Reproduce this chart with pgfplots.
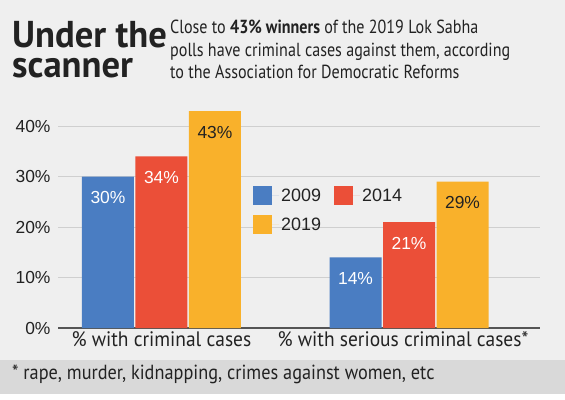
\documentclass[border=0pt]{standalone}
\usepackage{fontspec}
\setmainfont{PT Sans}
\newfontfamily\numfont{Liberation Sans}
\usepackage{pgfplots}
\pgfplotsset{compat=1.18}
\definecolor{bg}{HTML}{EFEFEF}
\definecolor{band}{HTML}{D9D9D9}
\definecolor{cblue}{HTML}{4A7DC2}
\definecolor{cred}{HTML}{EB4F38}
\definecolor{corange}{HTML}{F9B12B}
\definecolor{gridc}{HTML}{CFCFCF}
\definecolor{axc}{HTML}{555555}
\definecolor{txt}{HTML}{222222}
\begin{document}
\begin{tikzpicture}[x=1bp,y=1bp]
\fill[bg] (0,0) rectangle (565,399);
\path[use as bounding box] (0,0) rectangle (565,399);
\fill[band] (0,5) rectangle (565,39);
\fill[white] (0,0) rectangle (565,5);
% title
\node[anchor=base west, inner sep=0, text=txt, align=left, font=\fontsize{37.5}{30}\selectfont\bfseries] at (12,322) {\scalebox{0.98}[1]{Under the}\\\scalebox{0.98}[1]{scanner}};
% subtitle
\node[anchor=base west, inner sep=0, text=txt, font=\fontsize{19}{20}\selectfont] at (170,366) {\scalebox{0.85}[1]{Close to \textbf{43\% winners} of the 2019 Lok Sabha}};
\node[anchor=base west, inner sep=0, text=txt, font=\fontsize{19}{20}\selectfont] at (170,343) {\scalebox{0.85}[1]{polls have criminal cases against them, according}};
\node[anchor=base west, inner sep=0, text=txt, font=\fontsize{19}{20}\selectfont] at (170,321) {\scalebox{0.85}[1]{to the Association for Democratic Reforms}};
% footnote
\node[anchor=base west, inner sep=0, text=txt, font=\fontsize{20.5}{21}\selectfont] at (12,20) {\scalebox{0.895}[1]{* rape, murder, kidnapping, crimes against women, etc}};
\begin{axis}[
  at={(58bp,71bp)}, anchor=south west, scale only axis,
  width=482bp, height=227bp,
  xmin=-0.418, xmax=1.529, ymin=0, ymax=45,
  ybar=1.5bp, bar width=52bp,
  axis x line*=bottom, axis y line*=left,
  x axis line style={axc, line width=1.3bp},
  y axis line style={draw=none},
  major tick length=0pt,
  /pgf/number format/assume math mode=true,
  ytick={0,10,20,30,40},
  yticklabel={\pgfmathprintnumber{\tick}\%},
  yticklabel style={font=\numfont\fontsize{17.5}{18}\selectfont, text=txt, xshift=-4bp},
  xtick={0,1},
  xticklabels={{\scalebox{0.93}[1]{\% with criminal cases}},{\hspace*{-12bp}\scalebox{0.93}[1]{\% with serious criminal cases*}}},
  xticklabel style={font=\fontsize{21}{22}\selectfont, text=txt},
  ymajorgrids, grid style={gridc, line width=1bp},
  nodes near coords={\pgfmathprintnumber{\pgfplotspointmeta}\%},
  nodes near coords align={center},
  every node near coord/.append style={font=\numfont\fontsize{17.5}{18}\selectfont, yshift=-21bp},
  legend columns=2,
  legend style={at={(rel axis cs:0.4046,0.6256)}, anchor=north west, draw=none, fill=none,
    inner sep=0pt, font=\numfont\fontsize{18}{18}\selectfont, text=txt,
    /tikz/every even column/.append style={column sep=11bp}, row sep=10bp},
  legend image code/.code={\path[#1] (0bp,-9.5bp) rectangle (19bp,9.5bp); \path (19bp,0) -- (26bp,0);},
]
\addplot[fill=cblue, draw=none, every node near coord/.append style={text=white}] coordinates {(0,30) (1,14)};
\addplot[fill=cred, draw=none, every node near coord/.append style={text=white}] coordinates {(0,34) (1,21)};
\addplot[fill=corange, draw=none, every node near coord/.append style={text=txt}] coordinates {(0,43) (1,29)};
\legend{2009,2014,2019}
\end{axis}
\end{tikzpicture}
\end{document}
